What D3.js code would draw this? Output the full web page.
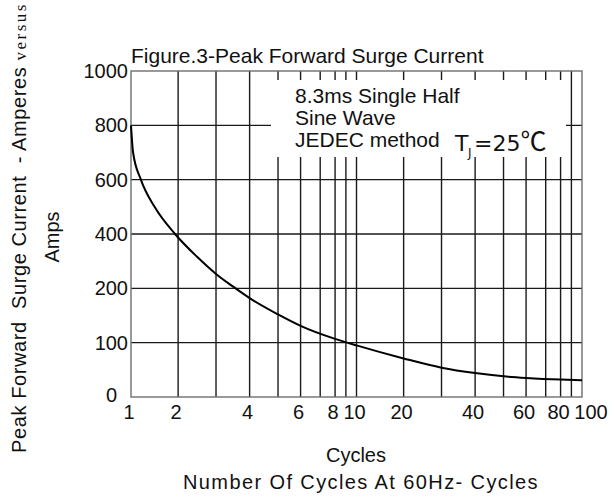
<!DOCTYPE html>
<html>
<head>
<meta charset="utf-8">
<script src="https://cdn.jsdelivr.net/npm/d3@7"></script>
<style>
  body { margin: 0; background: #fff; }
  text { font-family: "Liberation Sans", Arial, sans-serif; fill: #111; }
</style>
</head>
<body>
<svg id="chart" width="609" height="497"></svg>
<script>
// values
const cycles = [1, 1.044, 1.21, 1.5, 1.934, 2.5, 3, 3.5, 4, 5, 6, 8, 10, 20, 30, 40, 50, 60, 80, 100]
const amps = [800, 700, 600, 500, 400, 316, 253, 207, 182, 152, 131, 107, 95, 71, 54, 44, 38, 35, 32, 31]

const yTicks = [0, 100, 200, 400, 600, 800, 1000]
const xGrid = [2, 3, 4, 5, 6, 7, 8, 9, 10, 20, 30, 40, 50, 60, 70, 80, 90]
const xLabels = [1, 2, 4, 6, 8, 10, 20, 40, 60, 80, 100]

const svg = d3.select("#chart")
const plotL = 131, plotR = 582, plotT = 71, plotB = 397

// the paper's log axis is squeezed a bit, so build it piece by piece
const decadeStops = [0, 0.209, 0.377, 0.526, 0.652, 0.752, 0.839, 0.905, 0.953]
const decadeW = (plotR - plotL) / 2
const xDomain = [], xRange = []
for (let k = 0; k < 2; k++) {
    decadeStops.forEach(function(f, i) {
        xDomain.push((i + 1) * Math.pow(10, k))
        xRange.push(plotL + decadeW * (k + f))
    })
}
xDomain.push(100); xRange.push(plotR)
const x = d3.scaleLinear().domain(xDomain).range(xRange)

// y labels are evenly spaced even though the values are not
const y = d3.scaleLinear()
    .domain(yTicks)
    .range(yTicks.map(function(d, i) { return plotB - i * (plotB - plotT) / (yTicks.length - 1) }))

// grid
svg.selectAll(".vgrid")
    .data(xGrid)
    .enter()
    .append("line")
    .attr("x1", d => x(d)).attr("x2", d => x(d))
    .attr("y1", plotT).attr("y2", plotB)
    .attr("stroke", "#1a1a1a")
    .attr("stroke-width", 1.4)

svg.selectAll(".hgrid")
    .data(yTicks.slice(1, -1))
    .enter()
    .append("line")
    .attr("x1", plotL).attr("x2", plotR)
    .attr("y1", d => y(d)).attr("y2", d => y(d))
    .attr("stroke", "#1a1a1a")
    .attr("stroke-width", 1.4)

// frame
svg.append("rect")
    .attr("x", plotL).attr("y", plotT)
    .attr("width", plotR - plotL).attr("height", plotB - plotT)
    .attr("fill", "none")
    .attr("stroke", "#6e6e6e")
    .attr("stroke-width", 1.4)

// white box behind the note
svg.append("rect")
    .attr("x", 271).attr("y", 80)
    .attr("width", 295).attr("height", 77)
    .attr("fill", "#fff")

// curve
const line = d3.line()
    .x((d, i) => x(cycles[i]))
    .y(d => y(d))
    .curve(d3.curveMonotoneX)

svg.append("path")
    .datum(amps)
    .attr("d", line)
    .attr("fill", "none")
    .attr("stroke", "#000")
    .attr("stroke-width", 2)

// tick labels
svg.selectAll(".ylab")
    .data(yTicks)
    .enter()
    .append("text")
    .attr("x", d => d === 0 ? 117 : 128)
    .attr("y", d => y(d) + (d === 0 ? 5 : 7))
    .attr("text-anchor", "end")
    .style("font-size", "20px")
    .text(d => d)

svg.selectAll(".xlab")
    .data(xLabels)
    .enter()
    .append("text")
    .attr("x", d => x(d) + (d === 100 ? 9 : -2))
    .attr("y", 419)
    .attr("text-anchor", "middle")
    .style("font-size", "20px")
    .text(d => d)

// titles
svg.append("text")
    .attr("x", 131).attr("y", 63)
    .style("font-size", "21px")
    .text("Figure.3-Peak Forward Surge Current")

const note = ["8.3ms Single Half", "Sine Wave", "JEDEC method"]
svg.selectAll(".note")
    .data(note)
    .enter()
    .append("text")
    .attr("x", 295)
    .attr("y", (d, i) => 103 + i * 22)
    .style("font-size", "21px")
    .text(d => d)

const tj = svg.append("text")
    .attr("x", 455).attr("y", 151)
    .style("font-family", "'DejaVu Sans', sans-serif")
    .style("font-size", "22px")
tj.append("tspan").text("T")
tj.append("tspan").attr("x", 468).attr("dy", 6).style("font-size", "12px").text("J")
tj.append("tspan").attr("x", 474).attr("dy", -6).text("=25")
tj.append("tspan")
    .style("font-family", "'Noto Sans CJK SC', 'DejaVu Sans'")
    .style("font-size", "26px")
    .text("℃")

svg.append("text")
    .attr("x", 356).attr("y", 462)
    .attr("text-anchor", "middle")
    .style("font-size", "20px")
    .text("Cycles")

svg.append("text")
    .attr("x", 361).attr("y", 489)
    .attr("text-anchor", "middle")
    .style("font-size", "20px")
    .style("letter-spacing", "1.4px")
    .text("Number Of Cycles At 60Hz- Cycles")

const ytitle = svg.append("text")
    .attr("transform", "translate(26,453) rotate(-90)")
    .style("font-size", "20px")
    .style("letter-spacing", "0.6px")
    .style("white-space", "pre")
ytitle.append("tspan").text("Peak Forward  Surge Current  - Amperes ")
ytitle.append("tspan")
    .style("font-family", "'Liberation Serif', serif")
    .style("font-size", "17px")
    .style("letter-spacing", "2.5px")
    .text("versus")

svg.append("text")
    .attr("transform", "translate(59,237) rotate(-90)")
    .attr("text-anchor", "middle")
    .style("font-size", "20px")
    .text("Amps")
</script>
</body>
</html>
